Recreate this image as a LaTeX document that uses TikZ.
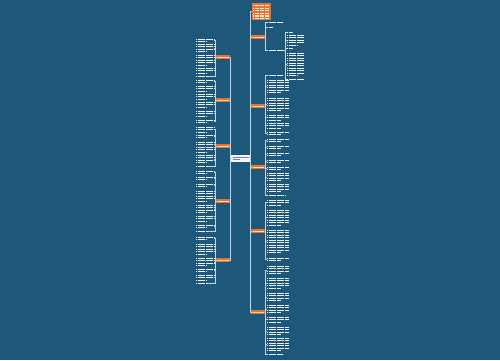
\documentclass[tikz,border=0pt]{standalone}
\usetikzlibrary{calc}
\definecolor{bg}{RGB}{29,88,123}
\definecolor{org}{RGB}{232,116,44}
\definecolor{lnk}{RGB}{190,214,230}
\definecolor{rootfill}{RGB}{245,248,250}
\tikzset{
  txt/.style={draw=white, line width=1.25pt, dash pattern=on 1.3pt off 0.3pt, opacity=0.92},
  leafnode/.style={inner sep=0pt, outer sep=0pt},
  link/.style={draw=lnk, line width=0.6pt},
  branch/.style={fill=org, inner sep=0pt, outer sep=0pt, minimum width=14pt, minimum height=4pt},
}
\newcommand\leafblk[5]{%
  \node[leafnode, minimum width=#4pt, minimum height={#5*2.5pt}, anchor=north west] (#1) at (#2,#3) {};
  \foreach \kk in {1,...,#5}{%
    \pgfmathsetmacro\ww{(\kk==#5 && #5>1) ? 0.6*#4 : #4}
    \draw[txt] ($(#1.north west)+(0,{\kk*2.5-1.25})$) -- ++(\ww,0);
  }%
}
\newcommand\branchnode[3]{%
  \node[branch, anchor=west] (#1) at (#2,#3) {};
  \draw[white, line width=0.8pt, opacity=0.75] ($(#1.west)+(1.5,0)$) -- ($(#1.east)+(-1.5,0)$);
}
\begin{document}
\begin{tikzpicture}[x=1pt,y=-1pt]
\fill[bg] (0,0) rectangle (500,360);
\useasboundingbox (0,0) rectangle (500,360);
\coordinate (lt) at (230.5,0);
\coordinate (rt) at (250.5,0);
\coordinate (rb) at (265.5,0);
\coordinate (sb) at (285.5,0);
\coordinate (lb) at (215.5,0);

% root
\node[fill=rootfill, inner sep=0pt, minimum width=19pt, minimum height=7pt, anchor=north west] (root) at (231,155) {};
\draw[gray, line width=1pt] ($(root.north west)+(1.5,2.3)$) -- ++(16,0);
\draw[gray, line width=1pt] ($(root.north west)+(1.5,4.8)$) -- ++(7,0);

% top orange box
\node[fill=org, inner sep=0pt, minimum width=19pt, minimum height=17pt, anchor=north west] (top) at (251.5,3) {};
\foreach \kk in {1,...,6}{\draw[white, line width=1.1pt, dash pattern=on 1.3pt off 0.35pt, opacity=0.85] ($(top.north west)+(1.5,{\kk*2.6})$) -- ++(16,0);}

% branch nodes
\branchnode{R1}{251}{37}
\branchnode{R2}{251}{106}
\branchnode{R3}{251}{167}
\branchnode{R4}{251}{231}
\branchnode{R5}{251}{312}
\branchnode{L1}{216}{57}
\branchnode{L2}{216}{100}
\branchnode{L3}{216}{146}
\branchnode{L4}{216}{201}
\branchnode{L5}{216}{260}

% trunks
\draw[link] (root.east) -- (root.east -| rt) |- (top.west);
\foreach \n in {R1,R2,R3,R4,R5}{\draw[link] (root.east) -- (root.east -| rt) |- (\n.west);}
\foreach \n in {L1,L2,L3,L4,L5}{\draw[link] (root.west) -- (root.west -| lt) |- (\n.east);}

% right group 1
\leafblk{r1a}{267}{21}{16}{1}
\leafblk{r1b}{267}{26}{6}{1}
\leafblk{r1c}{267}{49.5}{16}{1}
\foreach \n in {r1a,r1b,r1c}{\draw[link] (R1.east) -- (R1.east -| rb) |- (\n.west);}
\leafblk{s1}{287}{31}{6}{1}
\leafblk{s2}{287}{34}{17}{5}
\leafblk{s3}{287}{47.5}{6}{1}
\leafblk{s4}{287}{52}{17}{10}
\leafblk{s5}{287}{78.5}{17}{1}
\foreach \n in {s1,s2,s3,s4,s5}{\draw[link] (r1c.east) -- (r1c.east -| sb) |- (\n.west);}

% right group 2
\leafblk{r2a}{267}{74}{16}{1}
\leafblk{r2b}{267}{79}{22}{6}
\leafblk{r2c}{267}{97}{22}{6}
\leafblk{r2d}{267}{114}{22}{3}
\leafblk{r2e}{267}{122}{22}{3}
\leafblk{r2f}{267}{131}{22}{2}
\foreach \n in {r2a,r2b,r2c,r2d,r2e,r2f}{\draw[link] (R2.east) -- (R2.east -| rb) |- (\n.west);}

% right group 3
\leafblk{r3a}{267}{138}{22}{2}
\leafblk{r3b}{267}{145}{22}{2}
\leafblk{r3c}{267}{152}{22}{2}
\leafblk{r3d}{267}{159}{22}{2}
\leafblk{r3e}{267}{166}{22}{2}
\leafblk{r3f}{267}{172}{22}{4}
\leafblk{r3g}{267}{183}{22}{4}
\leafblk{r3h}{267}{194}{18}{1}
\foreach \n in {r3a,r3b,r3c,r3d,r3e,r3f,r3g,r3h}{\draw[link] (R3.east) -- (R3.east -| rb) |- (\n.west);}

% right group 4
\leafblk{r4a}{267}{199}{22}{3}
\leafblk{r4b}{267}{209}{22}{7}
\leafblk{r4c}{267}{229}{22}{10}
\leafblk{r4d}{267}{257}{22}{2}
\foreach \n in {r4a,r4b,r4c,r4d}{\draw[link] (R4.east) -- (R4.east -| rb) |- (\n.west);}

% right group 5
\leafblk{r5a}{267}{265}{22}{4}
\leafblk{r5b}{267}{277}{22}{5}
\leafblk{r5c}{267}{292}{22}{4}
\leafblk{r5d}{267}{304}{22}{4}
\leafblk{r5e}{267}{316}{22}{3}
\leafblk{r5f}{267}{326}{22}{4}
\leafblk{r5g}{267}{337}{22}{6}
\leafblk{r5h}{267}{353}{16}{1}
\foreach \n in {r5a,r5b,r5c,r5d,r5e,r5f,r5g,r5h}{\draw[link] (R5.east) -- (R5.east -| rb) |- (\n.west);}

% left group 1
\leafblk{l1a}{196}{38}{18}{2}
\leafblk{l1b}{196}{43}{18}{4}
\leafblk{l1c}{196}{54}{18}{5}
\leafblk{l1d}{196}{67}{18}{3}
\leafblk{l1e}{196}{75}{12}{1}
\foreach \n in {l1a,l1b,l1c,l1d,l1e}{\draw[link] (L1.west) -- (L1.west -| lb) |- (\n.east);}

% left group 2
\leafblk{l2a}{196}{79}{18}{2}
\leafblk{l2b}{196}{85}{18}{3}
\leafblk{l2c}{196}{93}{18}{3}
\leafblk{l2d}{196}{101}{18}{3}
\leafblk{l2e}{196}{110}{18}{3}
\leafblk{l2f}{196}{119}{18}{2}
\foreach \n in {l2a,l2b,l2c,l2d,l2e,l2f}{\draw[link] (L2.west) -- (L2.west -| lb) |- (\n.east);}

% left group 3
\leafblk{l3a}{196}{126}{18}{3}
\leafblk{l3b}{196}{134}{18}{2}
\leafblk{l3c}{196}{141}{18}{5}
\leafblk{l3d}{196}{154}{18}{4}
\leafblk{l3e}{196}{165}{12}{1}
\foreach \n in {l3a,l3b,l3c,l3d,l3e}{\draw[link] (L3.west) -- (L3.west -| lb) |- (\n.east);}

% left group 4
\leafblk{l4a}{196}{170}{18}{2}
\leafblk{l4b}{196}{176}{18}{2}
\leafblk{l4c}{196}{183}{18}{2}
\leafblk{l4d}{196}{190}{18}{5}
\leafblk{l4e}{196}{204}{18}{4}
\leafblk{l4f}{196}{215}{18}{3}
\leafblk{l4g}{196}{224}{18}{2}
\leafblk{l4h}{196}{230}{12}{1}
\foreach \n in {l4a,l4b,l4c,l4d,l4e,l4f,l4g,l4h}{\draw[link] (L4.west) -- (L4.west -| lb) |- (\n.east);}

% left group 5
\leafblk{l5a}{196}{236}{18}{2}
\leafblk{l5b}{196}{243}{18}{5}
\leafblk{l5c}{196}{257}{18}{4}
\leafblk{l5d}{196}{268}{18}{2}
\leafblk{l5e}{196}{274}{18}{3}
\leafblk{l5f}{196}{282}{12}{1}
\foreach \n in {l5a,l5b,l5c,l5d,l5e,l5f}{\draw[link] (L5.west) -- (L5.west -| lb) |- (\n.east);}
\end{tikzpicture}
\end{document}
